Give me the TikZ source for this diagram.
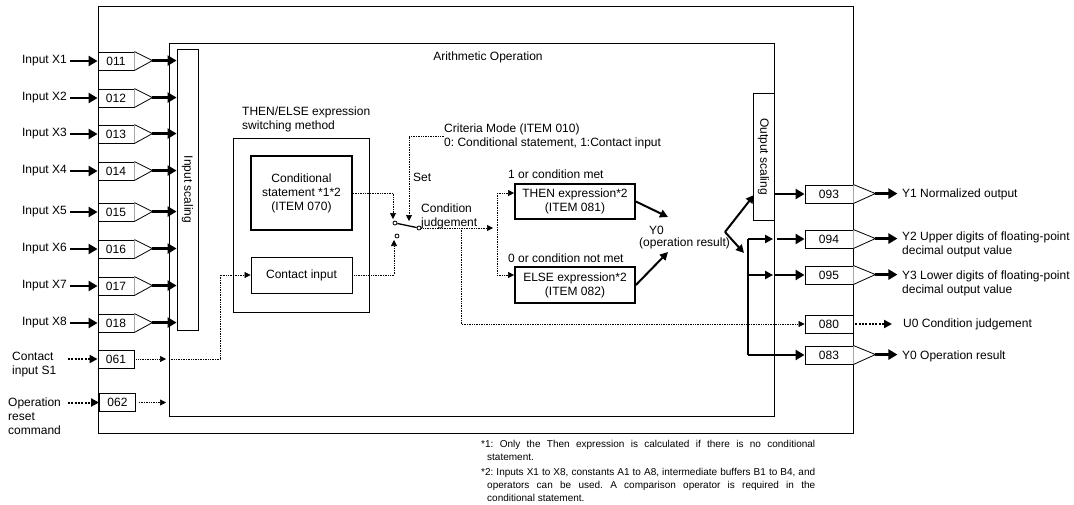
\documentclass[tikz,border=0pt]{standalone}
\usepackage{fontspec}
\setmainfont{Liberation Sans}
\usetikzlibrary{arrows.meta}
\newcommand\mainsz{\fontsize{12}{14}\selectfont}
\newcommand\notesz{\fontsize{10}{13}\selectfont}
\frenchspacing
\begin{document}
\begin{tikzpicture}[x=1pt,y=-1pt,
  every node/.style={font=\mainsz, inner sep=0pt},
  nbox/.style={draw, line width=0.9pt, minimum width=36pt, minimum height=18pt, fill=white},
  obox/.style={draw, line width=0.9pt, minimum width=48pt, minimum height=18pt, fill=white},
  amp/.style={draw, line width=0.8pt, fill=white, line join=miter},
  tarrow/.style={line width=2.8pt, -{Triangle[length=9pt,width=10pt]}},
  marrow/.style={line width=2pt, -{Triangle[length=8pt,width=8pt]}},
  darrow/.style={line width=0.6pt, dash pattern=on 0.8pt off 0.9pt, -{Triangle[length=6pt,width=6pt]}},
  dline/.style={line width=0.6pt, dash pattern=on 0.8pt off 0.9pt},
  tdarrow/.style={line width=2pt, dash pattern=on 2pt off 1.3pt, -{Triangle[length=8pt,width=8pt]}},
  thinbox/.style={draw, line width=0.8pt, align=center},
  thickbox/.style={draw, line width=1.8pt, align=center},
  frame/.style={draw, line width=1.1pt},
  contact/.style={circle, draw, line width=0.8pt, fill=white, minimum size=4pt, inner sep=0pt},
]
\useasboundingbox (0,0) rectangle (1074,504);

% frames
\node[frame, minimum width=755pt, minimum height=427pt, anchor=north west] (outer) at (98,6) {};
\node[frame, minimum width=605pt, minimum height=373pt, anchor=north west] (inner) at (169,43) {};
\node (arith) at (488,57) {Arithmetic Operation};

% scaling boxes
\node[thinbox, rotate=-90, minimum width=281pt, minimum height=21pt] (isc) at (187.5,189.5) {Input scaling};
\node[thinbox, rotate=-90, minimum width=127pt, minimum height=21pt, fill=white] (osc) at (763.5,156.5) {Output scaling};

% inputs
\foreach \nn/\yy/\lab in {011/61/X1,012/98/X2,013/134/X3,014/171/X4,015/212/X5,016/249/X6,017/286/X7,018/323/X8}{
  \node[nbox] (b\nn) at (116,\yy) {\nn};
  \draw[amp] (b\nn.north east) -- ++(18,9) coordinate (t\nn) -- (b\nn.south east);
  \node[anchor=east] (l\nn) at (67,\yy) {Input \lab};
  \draw[tarrow] ([xshift=3pt]l\nn.east) -- (b\nn.west);
  \draw[tarrow] (t\nn) -- (t\nn -| isc.south);
}

% contact input S1 and reset
\node[nbox] (b061) at (116,359) {061};
\node[nbox] (b062) at (117.5,402.5) {062};
\node[anchor=west, align=left] (ls1) at (12,365) {Contact\\input S1};
\node[anchor=west, align=left] (lrst) at (8,416) {Operation\\reset\\command};
\coordinate (s1) at (68,359);
\coordinate (rs) at (68,402.5);
\draw[tdarrow] (s1) -- (b061.west);
\draw[tdarrow] (rs) -- (b062.west);
\draw[darrow] ([xshift=2pt]b061.east) -- ([xshift=-3pt]inner.west |- b061.east);
\draw[darrow] ([xshift=3pt]b062.east) -- ([xshift=-3pt]inner.west |- b062.east);

% THEN/ELSE switching method
\node[anchor=west, align=left] (methl) at (242,119) {THEN/ELSE expression\\switching method};
\node[thinbox, minimum width=136pt, minimum height=174pt] (meth) at (301,225) {};
\node[thickbox, minimum width=101pt, minimum height=74pt] (cs) at (301.5,193) {Conditional\\statement *1*2\\(ITEM 070)};
\node[thinbox, minimum width=101pt, minimum height=36pt] (ci) at (301.5,275) {Contact input};
\coordinate (ci1) at (220,359);
\draw[darrow] (inner.west |- b061.east) -- (ci1) |- (ci.west);

% switch
\node[contact] (sw1) at (395,223) {};
\node[contact] (sw2) at (397,236) {};
\node[contact] (sw3) at (419,228) {};
\draw[line width=1.3pt] (sw1) -- (sw3);
\coordinate (swa) at (393,219);
\coordinate (swb) at (394,240);
\coordinate (swc) at (409,221);
\draw[darrow] (cs.east) -| (swa);
\draw[darrow] (ci.east) -| (swb);
\node[anchor=west, align=left] (crit) at (444,136) {Criteria Mode (ITEM 010)\\0: Conditional statement, 1:Contact input};
\draw[darrow] (crit.west) -| (swc);
\node[anchor=west] (setl) at (413,177) {Set};
\node[anchor=west, align=left] (cjl) at (421,216) {Condition\\judgement};

% condition judgement routing
\coordinate (cjend) at (493,228);
\draw[darrow] (sw3.east) -- (cjend);
\coordinate (vt) at (497,193);
\coordinate (ve) at (497,275);
\draw[dline] (vt) -- (ve);

% THEN / ELSE
\node[thickbox, minimum width=120pt, minimum height=35pt] (then) at (575,201.5) {THEN expression*2\\(ITEM 081)};
\node[thickbox, minimum width=120pt, minimum height=36pt] (else) at (575,285) {ELSE expression*2\\(ITEM 082)};
\node[anchor=west] (l1) at (508,174) {1 or condition met};
\node[anchor=west] (l0) at (508,258) {0 or condition not met};
\draw[darrow] (vt) -- (then.west |- vt);
\draw[darrow] (ve) -- (else.west |- ve);

% Y0
\node[anchor=west] (y0a) at (649,230) {Y0};
\node[anchor=west] (y0b) at (639,243) {(operation result)};
\coordinate (y0t) at (668,217);
\coordinate (y0e) at (668,252);
\draw[marrow] (then.east) -- (y0t);
\draw[marrow] (else.east) -- (y0e);
\coordinate (fk) at (725,232);
\coordinate (fku) at (754,195);
\coordinate (fkd) at (744,253);
\draw[marrow] (fk) -- (fku);
\draw[marrow] (fk) -- (fkd);

% output boxes
\node[obox] (b093) at (829,194) {093};
\node[obox] (b094) at (829,239) {094};
\node[obox] (b095) at (829,275) {095};
\node[obox] (b080) at (829,324) {080};
\node[obox] (b083) at (829,355) {083};

% internal distribution
\coordinate (vd1) at (748,239);
\coordinate (vd2) at (748,275);
\coordinate (vd3) at (748,355);
\draw[line width=2pt] (vd1) -- (vd3);
\draw[marrow] (vd1) -- ([xshift=-2pt]vd1 -| inner.east);
\draw[marrow] (vd2) -- ([xshift=-2pt]vd2 -| inner.east);
\draw[tarrow] (vd3) -- (b083.west);
\draw[tarrow] (b093 -| osc.north) -- (b093.west);
\draw[tarrow] ([xshift=2pt]b094 -| inner.east) -- (b094.west);
\draw[tarrow] (b095 -| inner.east) -- (b095.west);

% condition judgement to 080
\coordinate (cj80) at (461,228);
\draw[darrow] (cj80) |- (b080.west);

% output amplifiers and labels
\foreach \nn in {093,094,095,083}{
  \draw[amp] (b\nn.north east) -- ++(22,9) coordinate (o\nn) -- (b\nn.south east);
  \draw[tarrow] (o\nn) -- ++(22,0);
}
\coordinate (u0e) at (892,324);
\draw[tdarrow] ([xshift=2pt]b080.east) -- (u0e);
\node[anchor=west] (ly1) at (902,194) {Y1 Normalized output};
\node[anchor=west, align=left] (ly2) at (902,244) {Y2 Upper digits of floating-point\\decimal output value};
\node[anchor=west, align=left] (ly3) at (902,283) {Y3 Lower digits of floating-point\\decimal output value};
\node[anchor=west] (lu0) at (903,324) {U0 Condition judgement};
\node[anchor=west] (ly0) at (902,356) {Y0 Operation result};

% footnotes
\node[anchor=north west, text width=334pt, align=justify, font=\notesz] (fn) at (481,440)
 {\hyphenpenalty=10000\exhyphenpenalty=10000
  \hangindent=6pt\hangafter=1 *1: Only the Then expression is calculated if there is no conditional\linebreak statement.\par
  \vspace{2pt}\hangindent=6pt\hangafter=1 *2: Inputs X1 to X8, constants A1 to A8, intermediate buffers B1 to B4, and\linebreak operators can be used. A comparison operator is required in the\linebreak conditional statement.\par};
\end{tikzpicture}
\end{document}
